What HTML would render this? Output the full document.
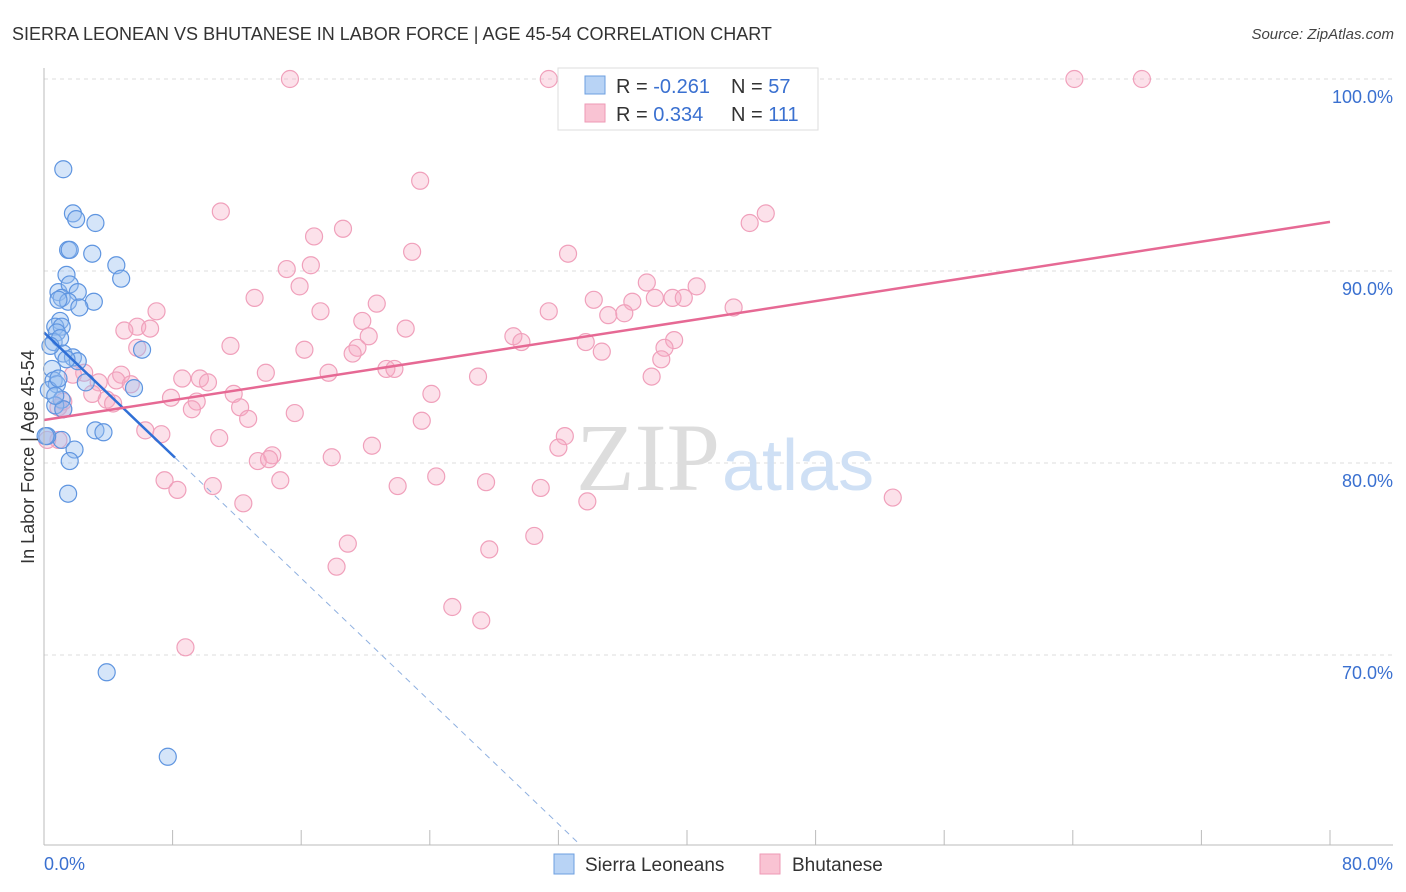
<!DOCTYPE html>
<html><head><meta charset="utf-8"><style>
body{margin:0;background:#fff;font-family:"Liberation Sans",sans-serif;}
svg{display:block}
</style></head><body>
<svg id="chart" width="1406" height="892" xmlns="http://www.w3.org/2000/svg">
<text x="12" y="40" font-size="18" fill="#333">SIERRA LEONEAN VS BHUTANESE IN LABOR FORCE | AGE 45-54 CORRELATION CHART</text>
<text x="1394" y="39" font-size="15" fill="#444" text-anchor="end" font-style="italic">Source: ZipAtlas.com</text>
<g id="grid"></g>
<text x="720" y="490" font-size="96" fill="#ddd" text-anchor="end" font-family="Liberation Serif">ZIP</text>
<text x="722" y="490" font-size="72" fill="#cfe0f5">atlas</text>
<g id="marks"></g>
<g id="axes"></g>
<text transform="translate(34,457) rotate(-90)" font-size="18" fill="#333" text-anchor="middle">In Labor Force | Age 45-54</text>
<g>
<rect x="558" y="68" width="260" height="62" fill="#fff" stroke="#ddd"/>
<rect x="585" y="76" width="20" height="18" fill="#b8d3f5" stroke="#6d9fe0"/>
<rect x="585" y="104" width="20" height="18" fill="#f9c3d3" stroke="#ee9ab6"/>
<text x="616" y="93" font-size="20" fill="#333">R = <tspan fill="#3a70d0">-0.261</tspan></text>
<text x="731" y="93" font-size="20" fill="#333">N = <tspan fill="#3a70d0">57</tspan></text>
<text x="616" y="121" font-size="20" fill="#333">R = <tspan fill="#3a70d0"> 0.334</tspan></text>
<text x="731" y="121" font-size="20" fill="#333">N = <tspan fill="#3a70d0">111</tspan></text>
</g>
<g>
<rect x="554" y="854" width="20" height="20" fill="#b8d3f5" stroke="#6d9fe0"/>
<text x="585" y="871" font-size="19" fill="#333">Sierra Leoneans</text>
<rect x="760" y="854" width="20" height="20" fill="#f9c3d3" stroke="#ee9ab6"/>
<text x="792" y="871" font-size="19" fill="#333">Bhutanese</text>
</g>
</svg>
<script>
const xTicks=[0,10,20,30,40,50,60,70,80];
const yTickVals=[100,90,80,70];
const yTickLabels=["100.0%","90.0%","80.0%","70.0%"];
const blueX=[1.2,1.8,2.0,3.2,1.5,1.6,3.0,4.5,1.4,4.8,0.9,1.6,1.1,2.1,1.5,3.1,2.2,1.0,0.7,1.1,0.8,0.6,1.0,1.2,1.8,2.1,6.1,0.5,0.6,0.8,0.3,5.6,2.6,1.1,0.7,1.2,3.2,3.7,1.1,0.2,1.9,1.6,1.5,3.9,7.7,0.4,0.1,0.7,0.9,1.4,0.9];
const blueY=[95.3,93.0,92.7,92.5,91.1,91.1,90.9,90.3,89.8,89.6,88.9,89.3,88.6,88.9,88.4,88.4,88.1,87.4,87.1,87.1,86.8,86.3,86.5,85.7,85.5,85.3,85.9,84.9,84.3,84.1,83.8,83.9,84.2,83.3,83.0,82.8,81.7,81.6,81.2,81.4,80.7,80.1,78.4,69.1,64.7,86.1,81.4,83.5,88.5,85.4,84.4];
const pinkX=[15.3,31.4,64.1,68.3,23.4,11.0,44.9,43.9,18.6,16.8,22.9,32.6,15.1,16.6,37.5,40.6,15.9,13.1,34.2,38.0,39.1,39.8,36.6,20.7,31.4,42.9,17.2,7.0,35.1,36.1,19.8,5.8,5.0,6.6,22.5,20.2,29.2,39.2,29.7,11.6,33.7,5.8,16.2,19.5,19.2,38.6,34.7,38.4,21.3,21.8,17.7,13.8,8.6,27.0,37.8,9.7,10.2,2.5,1.8,4.8,4.5,5.4,3.4,3.0,11.8,24.1,7.9,3.9,4.3,9.5,9.2,12.2,15.6,1.2,0.9,12.7,23.5,6.3,7.3,10.9,32.4,20.4,32.0,0.9,17.9,14.2,13.3,14.0,7.5,24.4,8.3,10.5,14.7,22.0,27.5,30.9,12.4,33.8,52.8,18.9,30.5,27.7,18.2,25.4,27.2,8.8,0.2,1.2];
const pinkY=[100,100,100,100,94.7,93.1,93.0,92.5,92.2,91.8,91.0,90.9,90.1,90.3,89.4,89.2,89.2,88.6,88.5,88.6,88.6,88.6,88.4,88.3,87.9,88.1,87.9,87.9,87.7,87.8,87.4,87.1,86.9,87.0,87.0,86.6,86.6,86.4,86.3,86.1,86.3,86.0,85.9,86.0,85.7,86.0,85.8,85.4,84.9,84.9,84.7,84.7,84.4,84.5,84.5,84.4,84.2,84.7,84.6,84.6,84.3,84.1,84.2,83.6,83.6,83.6,83.4,83.3,83.1,83.2,82.8,82.9,82.6,83.2,82.9,82.3,82.2,81.7,81.5,81.3,81.4,80.9,80.8,81.2,80.3,80.4,80.1,80.2,79.1,79.3,78.6,78.8,79.1,78.8,79.0,78.7,77.9,78.0,78.2,75.8,76.2,75.5,74.6,72.5,71.8,70.4,81.2,82.8];
const blueLine=[86.8,-0.8];   // intercept, slope
const pinkLine=[82.24,0.129];
const NS="http://www.w3.org/2000/svg";
const X=v=>44+v*16.075, Y=v=>79+(100-v)*19.2;
function mk(t,a,p){const e=document.createElementNS(NS,t);for(const k in a)e.setAttribute(k,a[k]);p.appendChild(e);return e;}
const grid=document.getElementById('grid'),axes=document.getElementById('axes'),marks=document.getElementById('marks');
yTickVals.forEach((v,i)=>{
 const l=mk('line',{x1:44,x2:1393,y1:Y(v),y2:Y(v),stroke:'#ddd','stroke-dasharray':'4,4'},grid);
 
 
 const t=mk('text',{x:1393,y:Y(v)+24,'font-size':18,fill:'#3a70d0','text-anchor':'end'},axes);
 t.textContent=yTickLabels[i];
 
 
});
mk('line',{x1:44,x2:44,y1:68,y2:845,stroke:'#bbb'},axes);
mk('line',{x1:44,x2:1393,y1:845,y2:845,stroke:'#bbb'},axes);
for(let v=0;v<=80;v+=8){const t=mk('line',{x1:X(v),x2:X(v),y1:830,y2:845,stroke:'#bbb'},axes);
 
 }
const xl0=mk('text',{x:44,y:870,'font-size':18,fill:'#3a70d0'},axes);xl0.textContent='0.0%';


const xl1=mk('text',{x:1393,y:870,'font-size':18,fill:'#3a70d0','text-anchor':'end'},axes);xl1.textContent='80.0%';


pinkX.forEach((x,i)=>{const c=mk('circle',{cx:X(x),cy:Y(pinkY[i]),r:8.5,fill:'rgba(246,170,195,0.35)',stroke:'#f0a0bb','stroke-width':1.2},marks);
 
 });
blueX.forEach((x,i)=>{const c=mk('circle',{cx:X(x),cy:Y(blueY[i]),r:8.5,fill:'rgba(150,190,240,0.4)',stroke:'#5f95e0','stroke-width':1.2},marks);
 
 });
const bf=v=>blueLine[0]+blueLine[1]*v, pf=v=>pinkLine[0]+pinkLine[1]*v;
const bl=mk('line',{x1:X(0),y1:Y(bf(0)),x2:X(8.15),y2:Y(bf(8.15)),stroke:'#2f6fd6','stroke-width':2.5},marks);


const xe=(blueLine[0]-60.1)/-blueLine[1];
const bd=mk('line',{x1:X(8.15),y1:Y(bf(8.15)),x2:X(xe),y2:Y(bf(xe)),stroke:'#8fb0e0','stroke-width':1,'stroke-dasharray':'6,5'},marks);


const pl=mk('line',{x1:X(0),y1:Y(pf(0)),x2:X(80),y2:Y(pf(80)),stroke:'#e66994','stroke-width':2.5},marks);


</script>
</body></html>
